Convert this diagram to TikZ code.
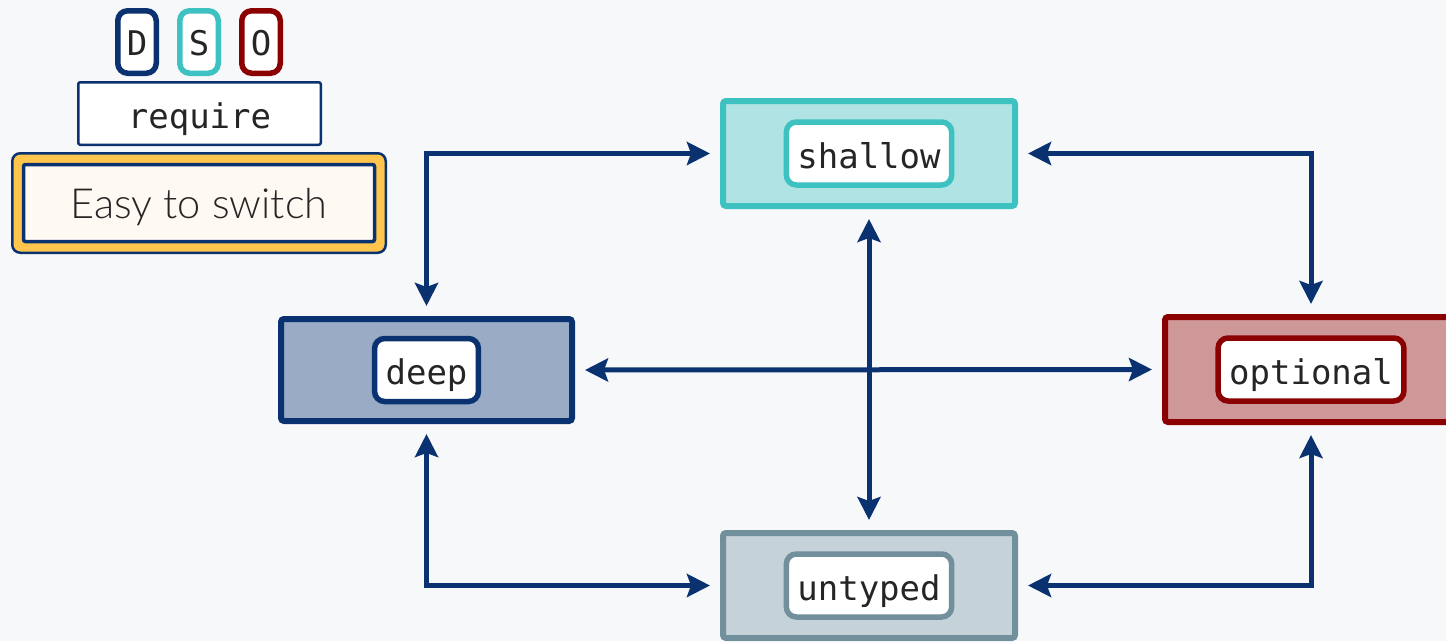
\documentclass[tikz,border=0pt]{standalone}
\usepackage{fontspec}
\setmonofont{DejaVu Sans Mono}
\newfontfamily\lightfont{Lato}[UprightFont={* Light}]
\usetikzlibrary{arrows.meta}
\definecolor{bgc}{HTML}{F7F8FA}
\definecolor{navy}{HTML}{0B3270}
\definecolor{teal}{HTML}{3DC1C1}
\definecolor{dred}{HTML}{8B0000}
\definecolor{slate}{HTML}{728F9C}
\definecolor{deepfill}{HTML}{9AABC6}
\definecolor{shallowfill}{HTML}{B0E4E4}
\definecolor{optfill}{HTML}{CF9898}
\definecolor{untfill}{HTML}{C5D2D9}
\definecolor{txt}{HTML}{252525}
\definecolor{yel}{HTML}{FFC54C}
\definecolor{cream}{HTML}{FFF9F3}
\tikzset{
  outerbox/.style={rectangle, line width=6pt, rounded corners=3pt, minimum width=292pt, minimum height=105pt, inner sep=0pt},
  monotext/.style={text=txt, font=\ttfamily\fontsize{34}{40}\selectfont, text height=34pt, text depth=5pt},
  innerbox/.style={rectangle, line width=5.5pt, rounded corners=10pt, fill=white, minimum height=63pt, inner xsep=11pt, inner ysep=0pt, monotext},
  letterbox/.style={rectangle, line width=5.5pt, rounded corners=10pt, fill=white, minimum width=38.5pt, minimum height=62.5pt, inner sep=0pt, monotext, text height=32pt, text depth=6pt},
  arr/.style={navy, line width=5pt, {Stealth[length=23pt,width=23pt,inset=4pt]}-{Stealth[length=23pt,width=23pt,inset=4pt]}, shorten <=10pt, shorten >=10pt}
}
\begin{document}
\begin{tikzpicture}[x=1pt,y=-1pt]
\fill[bgc] (0,0) rectangle (1446,641);
\useasboundingbox (0,0) rectangle (1446,641);
\clip (0,0) rectangle (1446,641);
% main nodes
\node[outerbox, draw=teal, fill=shallowfill] (shallow) at (869,153.5) {};
\node[innerbox, draw=teal] (shallowt) at (869,153.5) {shallow};
\node[outerbox, draw=navy, fill=deepfill, minimum width=291pt, minimum height=102pt] (deep) at (426.5,370) {};
\node[innerbox, draw=navy] (deept) at (426.5,370) {deep};
\node[outerbox, draw=dred, fill=optfill] (optional) at (1311,369.5) {};
\node[innerbox, draw=dred] (optionalt) at (1311,369.5) {optional};
\node[outerbox, draw=slate, fill=untfill] (untyped) at (869,585.5) {};
\node[innerbox, draw=slate] (untypedt) at (869,585.5) {untyped};
% connectors
\draw[arr] (deep.north) |- (shallow.west);
\draw[arr] (shallow.east) -| (optional.north);
\draw[arr] (deep.south) |- (untyped.west);
\draw[arr] (untyped.east) -| (optional.south);
\draw[arr] (deep.east) -- (optional.west);
\draw[arr] (shallow.south) -- (untyped.north);
% legend
\node[letterbox, draw=navy] (ld) at (137,42) {D};
\node[letterbox, draw=teal] (ls) at (199,42) {S};
\node[letterbox, draw=dred] (lo) at (261,42) {O};
\node[rectangle, draw=navy, line width=2.5pt, rounded corners=2pt, fill=white, minimum width=242.5pt, minimum height=62.5pt, inner sep=0pt, monotext] (req) at (199.5,113.5) {require};
\node[rectangle, draw=navy, line width=2.5pt, rounded corners=8pt, fill=yel, minimum width=373.5pt, minimum height=99.5pt, inner sep=0pt] (easyo) at (199,203) {};
\node[rectangle, draw=navy, line width=3.5pt, rounded corners=2pt, fill=cream, minimum width=351pt, minimum height=77pt, inner sep=0pt, text=txt, font=\lightfont\fontsize{41.5}{48}\selectfont, text height=36pt, text depth=6pt] (easy) at (199,203) {Easy to switch};
\end{tikzpicture}
\end{document}
